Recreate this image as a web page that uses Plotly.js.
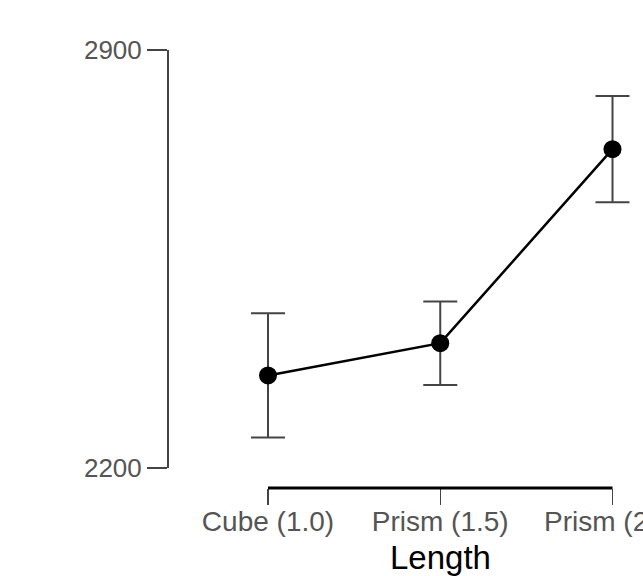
<!DOCTYPE html>
<html>
<head>
<meta charset="utf-8">
<script src="https://cdn.plot.ly/plotly-3.0.1.min.js"></script>
<style>html,body{margin:0;padding:0;background:#fff;overflow:hidden;}</style>
</head>
<body>
<div id="chart" style="width:643px;height:576px;"></div>
<script>
const categories = ["Cube (1.0)", "Prism (1.5)", "Prism (2.0)"];
const means = [2355, 2409, 2734];
const errors = [104, 70, 89];
const yTicks = [2200, 2900];
const xTitle = "Length";

const font = "Liberation Sans, Arial, sans-serif";
const pxPerCat = 172.25;
const x0px = 268;

const trace = {
  type: "scatter",
  mode: "lines+markers",
  x: categories,
  y: means,
  cliponaxis: false,
  line: {color: "#000", width: 2.5},
  marker: {color: "#000", size: 18},
  error_y: {type: "data", array: errors, visible: true, color: "#444", thickness: 2, width: 17},
  hoverinfo: "none",
  showlegend: false
};

const layout = {
  width: 643,
  height: 576,
  margin: {l: 0, r: 0, t: 50, b: 88},
  paper_bgcolor: "#fff",
  plot_bgcolor: "#fff",
  font: {family: font, color: "#555"},
  xaxis: {
    type: "category",
    domain: [0, 1],
    range: [-x0px / pxPerCat, (643 - x0px) / pxPerCat],
    anchor: "free",
    position: 0,
    showgrid: false,
    zeroline: false,
    showline: false,
    ticks: "outside",
    ticklen: 16,
    tickwidth: 1.5,
    tickcolor: "#444",
    ticklabelstandoff: -8,
    tickfont: {family: font, size: 28, color: "#555"},
    automargin: false
  },
  yaxis: {
    domain: [20 / 438, 1],
    range: [2200, 2900],
    anchor: "free",
    position: 167 / 643,
    tickmode: "array",
    tickvals: yTicks,
    ticktext: yTicks.map(String),
    showgrid: false,
    zeroline: false,
    showline: true,
    linecolor: "#444",
    linewidth: 1.5,
    ticks: "outside",
    ticklen: 20,
    tickwidth: 1.5,
    tickcolor: "#444",
    tickfont: {family: font, size: 26, color: "#555"},
    automargin: false
  },
  shapes: [{
    type: "line",
    xref: "x", yref: "paper",
    x0: 0, x1: categories.length - 1,
    y0: 0, y1: 0,
    line: {color: "#000", width: 3},
    layer: "above"
  }],
  annotations: [{
    text: xTitle,
    xref: "x", yref: "paper",
    x: (categories.length - 1) / 2,
    y: -69 / 438,
    xanchor: "center", yanchor: "middle",
    showarrow: false,
    font: {family: font, size: 33, color: "#000"}
  }]
};

Plotly.newPlot("chart", [trace], layout, {displayModeBar: false, staticPlot: true});
</script>
</body>
</html>
